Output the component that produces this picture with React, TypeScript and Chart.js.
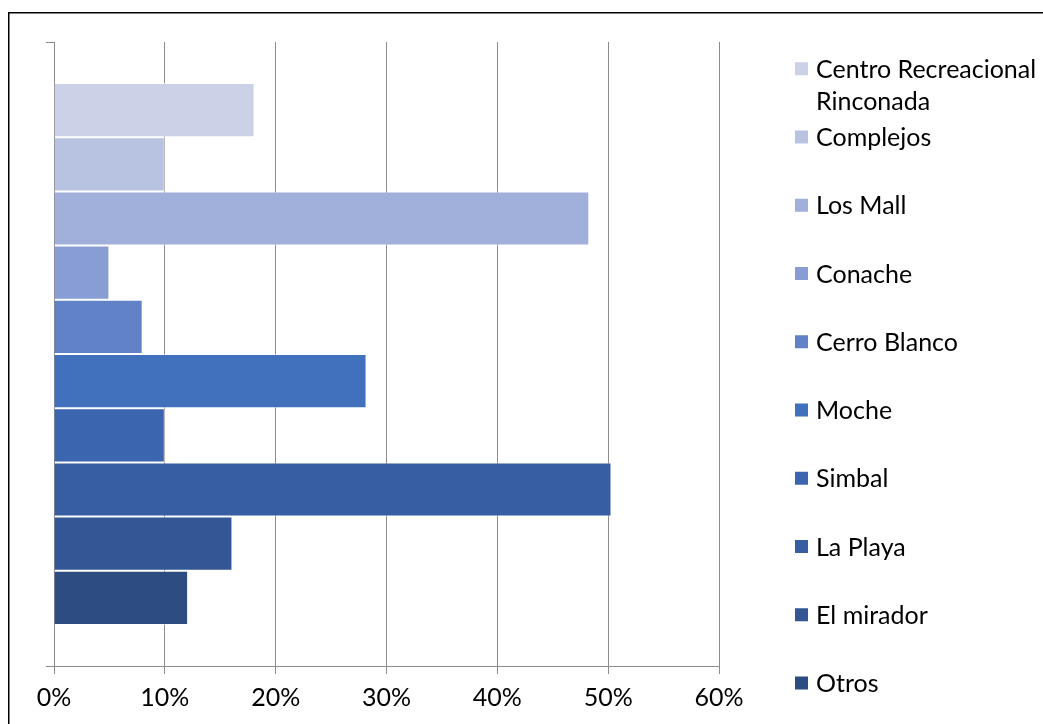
import React, { useEffect, useRef } from "react";
import { Chart, registerables } from "chart.js";

Chart.register(...registerables);

const categories = [""];
const seriesNames = [
  "Centro Recreacional Rinconada",
  "Complejos",
  "Los Mall",
  "Conache",
  "Cerro Blanco",
  "Moche",
  "Simbal",
  "La Playa",
  "El mirador",
  "Otros",
];
const seriesValues = [18.1, 10, 48.3, 5, 8, 28.2, 10, 50.3, 16.1, 12.1];
const seriesColors = [
  "#CBD2E8",
  "#B8C3E1",
  "#A1B0DA",
  "#879DD3",
  "#6282C8",
  "#4170BC",
  "#3B65AE",
  "#375DA2",
  "#335794",
  "#2C4C82",
];
const xMin = 0;
const xMax = 60;
const xStep = 10;

const FONT = "Lato, 'Noto Sans', sans-serif";
const FONT_SIZE = 25;
const GRID = "#8c8c8c";

const framePlugin = {
  id: "frame",
  beforeDraw(chart: any) {
    const ctx = chart.ctx;
    ctx.save();
    ctx.fillStyle = "#fff";
    ctx.fillRect(0, 0, chart.width, chart.height);
    ctx.strokeStyle = "#000";
    ctx.lineWidth = 1.5;
    ctx.strokeRect(8.75, 12.75, chart.width + 50, chart.height + 50);
    ctx.restore();
  },
};

const legendPlugin = {
  id: "customLegend",
  afterDraw(chart: any) {
    const ctx = chart.ctx;
    ctx.save();
    ctx.font = `${FONT_SIZE}px ${FONT}`;
    ctx.textBaseline = "middle";
    ctx.textAlign = "left";
    const boxX = 795;
    const boxSize = 13;
    const textX = 816;
    const maxW = chart.width - textX - 2;
    const top = 68.75;
    const step = 68.25;
    const lineH = 32;
    chart.data.datasets.forEach((ds: any, i: number) => {
      const cy = top + step * i;
      ctx.fillStyle = ds.backgroundColor;
      ctx.fillRect(boxX, cy - boxSize / 2, boxSize, boxSize);
      const words = String(ds.label).split(" ");
      const lines: string[] = [];
      let cur = "";
      words.forEach((w) => {
        const t = cur ? cur + " " + w : w;
        if (cur && ctx.measureText(t).width > maxW) {
          lines.push(cur);
          cur = w;
        } else cur = t;
      });
      if (cur) lines.push(cur);
      ctx.fillStyle = "#000";
      lines.forEach((l, k) => ctx.fillText(l, textX, cy + k * lineH + 1));
    });
    ctx.restore();
  },
};

export default function App() {
  const ref = useRef<HTMLCanvasElement | null>(null);
  useEffect(() => {
    if (!ref.current) return;
    const chart = new Chart(ref.current, {
      type: "bar",
      data: {
        labels: categories,
        datasets: seriesNames.map((name, i) => ({
          label: name,
          data: [seriesValues[i]],
          backgroundColor: seriesColors[i],
          borderColor: "rgba(255,255,255,0.6)",
          borderWidth: 1,
          borderSkipped: "start",
        })),
      },
      options: {
        indexAxis: "y",
        responsive: false,
        animation: false,
        events: [],
        layout: { padding: { left: 46, right: 324, top: 42, bottom: 8 } },
        datasets: { bar: { categoryPercentage: 0.8686, barPercentage: 1 } },
        plugins: { legend: { display: false }, tooltip: { enabled: false }, title: { display: false } },
        scales: {
          x: {
            type: "linear",
            min: xMin,
            max: xMax,
            ticks: {
              stepSize: xStep,
              callback: (v: any) => v + "%",
              color: "#000",
              font: { family: FONT, size: FONT_SIZE },
              padding: 9,
              maxRotation: 0,
              autoSkip: false,
            },
            grid: { color: GRID, lineWidth: 1, tickLength: 8, drawTicks: true },
            border: { color: GRID, width: 1 },
            afterFit: (s: any) => {
              s.height = 50;
            },
          },
          y: {
            type: "category",
            ticks: { display: false },
            grid: { offset: true, drawOnChartArea: false, tickLength: 8, color: GRID, lineWidth: 1 },
            border: { color: GRID, width: 1 },
            afterFit: (s: any) => {
              s.width = 8;
            },
          },
        },
      },
      plugins: [framePlugin, legendPlugin],
    } as any);
    return () => chart.destroy();
  }, []);
  return (
    <div style={{ position: "fixed", left: 0, top: 0, width: 1043, height: 724, overflow: "hidden", background: "#fff" }}>
      <canvas ref={ref} width={1043} height={724} style={{ display: "block" }} />
    </div>
  );
}
